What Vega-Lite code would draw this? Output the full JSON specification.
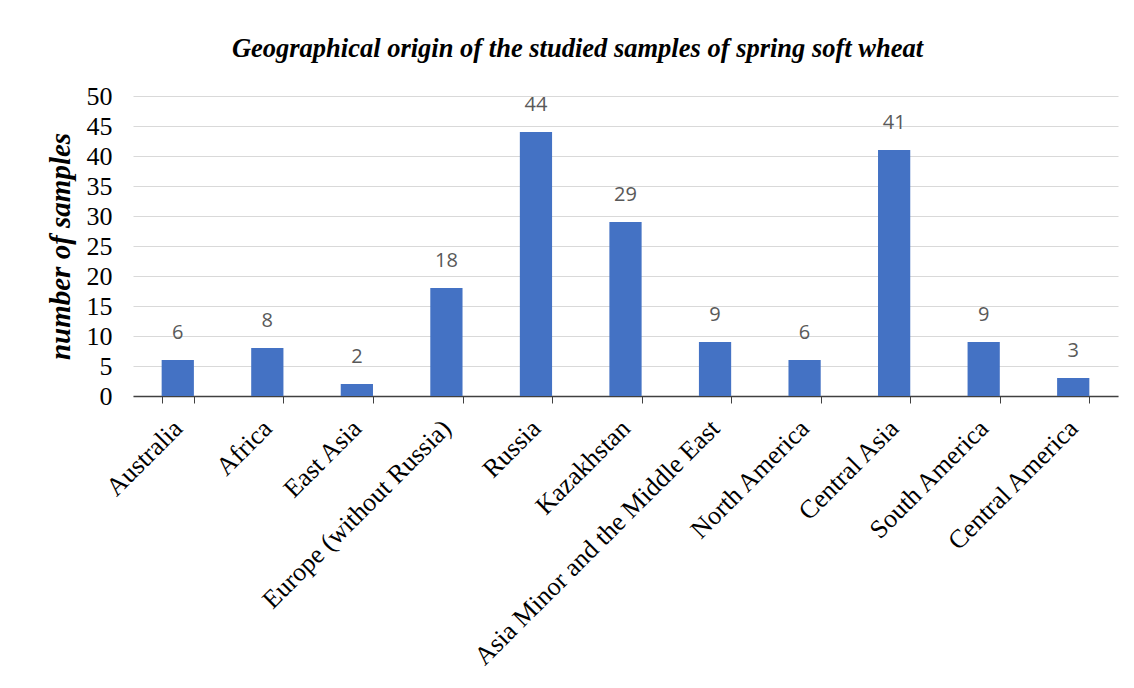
{
  "$schema": "https://vega.github.io/schema/vega-lite/v6.json",
  "width": 985,
  "height": 300,
  "autosize": {"type": "none"},
  "padding": {"left": 133, "top": 96, "right": 16, "bottom": 292},
  "background": "white",
  "title": {
    "text": "Geographical origin of the studied samples of spring soft wheat",
    "font": "Liberation Serif",
    "fontSize": 26.5,
    "fontStyle": "italic",
    "fontWeight": "bold",
    "color": "#000000",
    "anchor": "middle",
    "dx": -48,
    "offset": 21
  },
  "data": {
    "values": [
      {"region": "Australia", "count": 6},
      {"region": "Africa", "count": 8},
      {"region": "East Asia", "count": 2},
      {"region": "Europe (without Russia)", "count": 18},
      {"region": "Russia", "count": 44},
      {"region": "Kazakhstan", "count": 29},
      {"region": "Asia Minor and the Middle East", "count": 9},
      {"region": "North America", "count": 6},
      {"region": "Central Asia", "count": 41},
      {"region": "South America", "count": 9},
      {"region": "Central America", "count": 3}
    ]
  },
  "encoding": {
    "x": {
      "field": "region",
      "type": "nominal",
      "sort": null,
      "scale": {"paddingInner": 0.64, "paddingOuter": 0.32},
      "axis": {
        "title": null,
        "labelAngle": -45,
        "labelAlign": "right",
        "labelBaseline": "middle",
        "labelFont": "Liberation Serif",
        "labelFontSize": 26,
        "labelColor": "#000000",
        "labelPadding": 21,
        "labelLimit": 600,
        "tickBand": "extent",
        "tickSize": 7,
        "tickColor": "#404040",
        "domainColor": "#404040",
        "domainWidth": 1.5,
        "grid": false
      }
    },
    "y": {
      "field": "count",
      "type": "quantitative",
      "scale": {"domain": [0, 50]},
      "axis": {
        "title": "number of samples",
        "titleFont": "Liberation Serif",
        "titleFontSize": 29,
        "titleFontStyle": "italic",
        "titleFontWeight": "bold",
        "titleColor": "#000000",
        "titlePadding": 11,
        "values": [0, 5, 10, 15, 20, 25, 30, 35, 40, 45, 50],
        "labelFont": "Liberation Serif",
        "labelFontSize": 26,
        "labelColor": "#000000",
        "labelPadding": 21,
        "domain": false,
        "ticks": false,
        "grid": true,
        "gridColor": "#d9d9d9",
        "gridWidth": 1
      }
    }
  },
  "layer": [
    {"mark": {"type": "bar", "color": "#4472C4"}},
    {
      "mark": {
        "type": "text",
        "font": "Open Sans",
        "fontSize": 20,
        "color": "#595959",
        "baseline": "middle",
        "dy": -27
      },
      "encoding": {"text": {"field": "count", "type": "quantitative"}}
    }
  ],
  "config": {"view": {"stroke": null}}
}
